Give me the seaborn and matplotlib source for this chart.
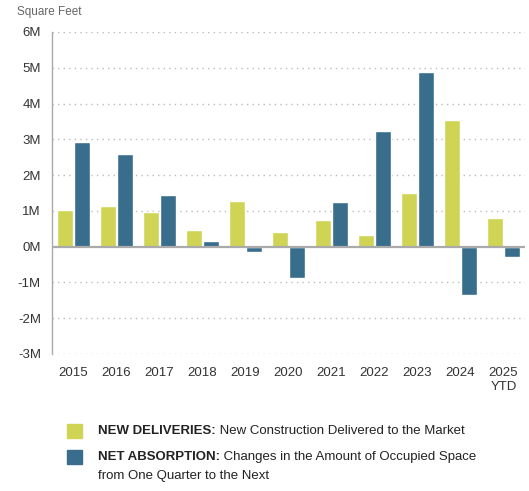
import pandas as pd
import seaborn as sns
import matplotlib.pyplot as plt
from matplotlib.patches import Rectangle

years = ["2015", "2016", "2017", "2018", "2019", "2020", "2021", "2022", "2023", "2024", "2025\nYTD"]
new_deliveries = [1.03, 1.14, 0.97, 0.47, 1.28, 0.41, 0.75, 0.33, 1.50, 3.55, 0.80]
net_absorption = [2.93, 2.60, 1.45, 0.17, -0.15, -0.88, 1.25, 3.24, 4.89, -1.35, -0.28]
series = ["NEW DELIVERIES", "NET ABSORPTION"]
colors = ["#CFD455", "#386D8C"]
y_ticks = [-3, -2, -1, 0, 1, 2, 3, 4, 5, 6]

df = pd.DataFrame({
    "year": years * 2,
    "value": new_deliveries + net_absorption,
    "series": [series[0]] * len(years) + [series[1]] * len(years),
})

sns.set_style("white")
plt.rcParams["font.family"] = ["Liberation Sans", "DejaVu Sans"]

fig = plt.figure(figsize=(5.29, 4.91), dpi=100)
ax = fig.add_axes([52 / 529, 1 - 354 / 491, 473 / 529, 322 / 491])

sns.barplot(data=df, x="year", y="value", hue="series", palette=colors,
            width=0.8, gap=0.05, ax=ax, legend=False, saturation=1)

ax.set_ylim(-3, 6)
ax.set_xlim(-0.5, len(years) - 0.5)
ax.set_yticks(y_ticks)
ax.set_yticklabels([f"{t}M" for t in y_ticks])
ax.set_xlabel("")
ax.set_ylabel("")
ax.tick_params(axis="both", length=0, labelsize=9.5, labelcolor="#333333")
ax.tick_params(axis="y", pad=8)
ax.tick_params(axis="x", pad=9)
for lbl in ax.get_xticklabels():
    lbl.set_linespacing(1.3)

for t in y_ticks:
    if t != 0:
        ax.axhline(t, color="#bbbbbb", lw=1, ls=(0, (1, 3)), zorder=0)
ax.axhline(0, color="#aaaaaa", lw=1.6, zorder=3)

for s in ["top", "right", "bottom"]:
    ax.spines[s].set_visible(False)
ax.spines["left"].set_color("#aaaaaa")
ax.spines["left"].set_linewidth(1)

fig.text(17 / 529, 1 - 12 / 491, "Square Feet", fontsize=8.5, color="#666666", va="center")

# legend
legend_rows = [
    (colors[0], "NEW DELIVERIES:", " New Construction Delivered to the Market", 431),
    (colors[1], "NET ABSORPTION:", " Changes in the Amount of Occupied Space", 457),
]
fig.canvas.draw()
renderer = fig.canvas.get_renderer()
for c, bold, rest, ypix in legend_rows:
    fig.patches.append(Rectangle((67 / 529, 1 - (ypix + 7) / 491), 15 / 529, 14 / 491,
                                 transform=fig.transFigure, color=c, figure=fig))
    tb = fig.text(98 / 529, 1 - ypix / 491, bold, fontsize=9.5, fontweight="bold",
                  color="#222222", va="center")
    x1 = tb.get_window_extent(renderer).x1 / fig.bbox.width
    fig.text(x1, 1 - ypix / 491, rest, fontsize=9.5, color="#222222", va="center")
fig.text(98 / 529, 1 - 476 / 491, "from One Quarter to the Next", fontsize=9.5,
         color="#222222", va="center")

fig.savefig("out.png", dpi=100)
